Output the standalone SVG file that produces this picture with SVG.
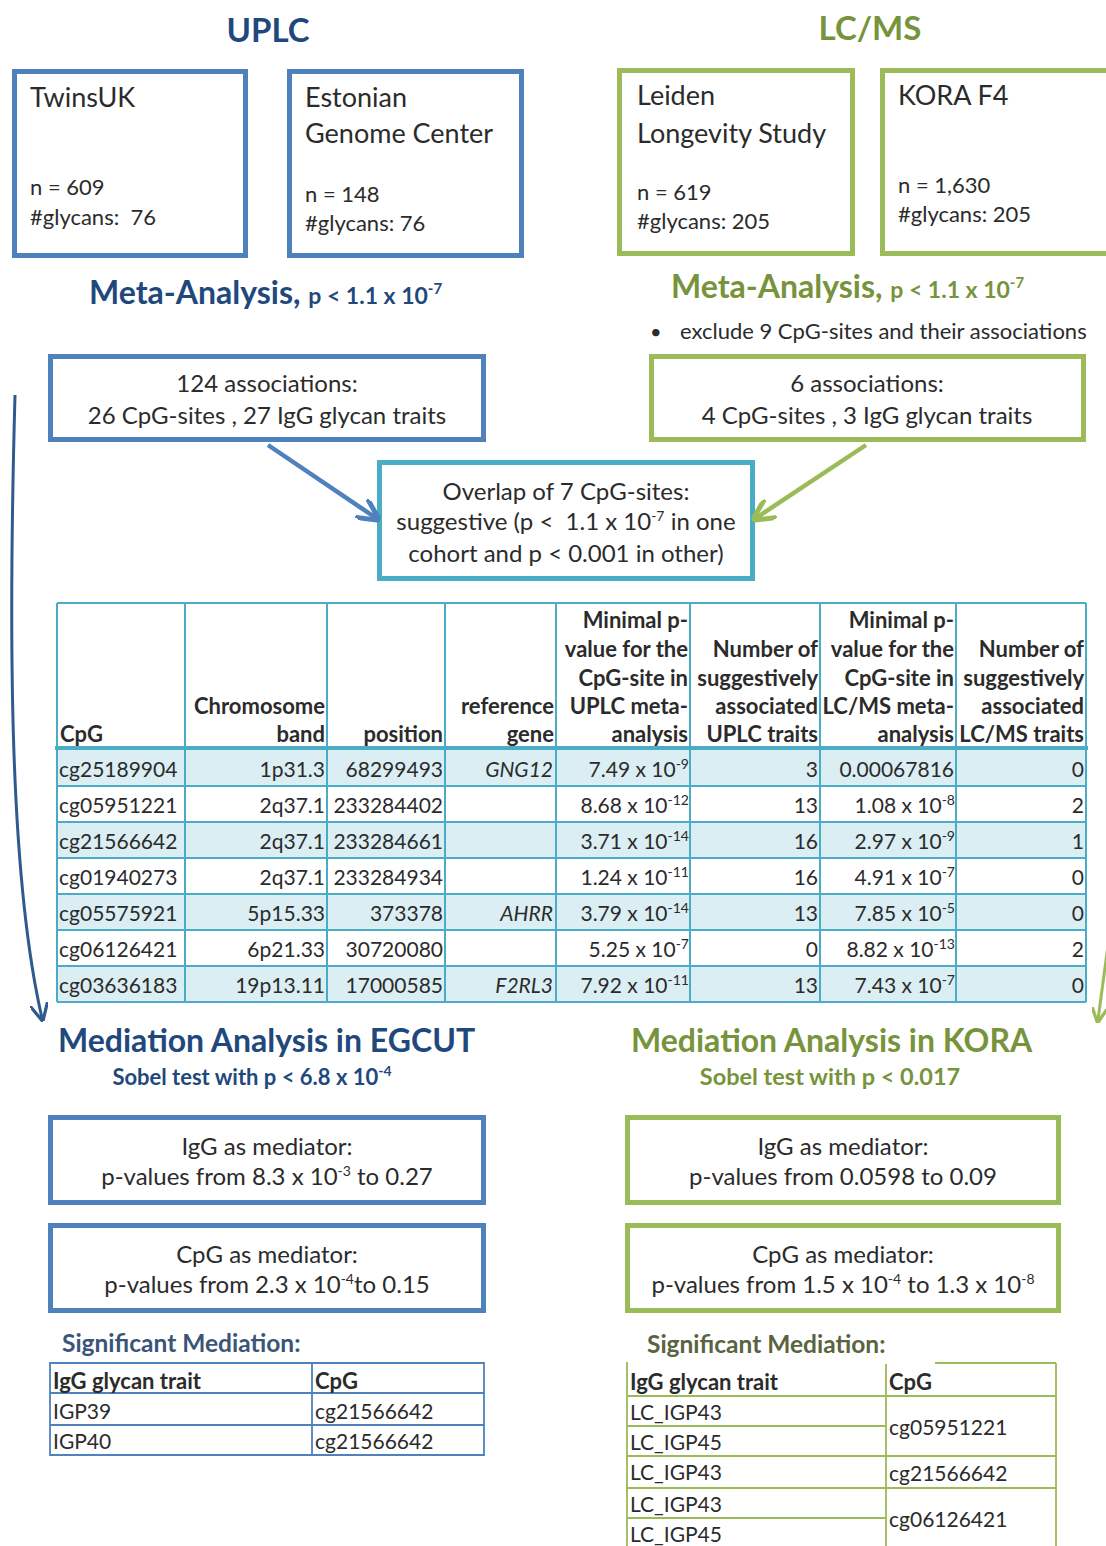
<svg xmlns="http://www.w3.org/2000/svg" width="1106" height="1546" viewBox="0 0 1106 1546">
<defs>
<style>
text{font-family:Lato,"Liberation Sans",sans-serif;fill:#2b2b2b}
.b{font-weight:bold}
.bx{fill:#fff;stroke-width:5}
.blue{stroke:#4F81BD}
.green{stroke:#9BBB59}
.cyan{stroke:#4BACC6}
.tb{fill:#1F497D}
.tg{fill:#77933C}
.c{text-anchor:middle}
.h{font-size:22px;font-weight:bold;text-anchor:end}
.r{font-size:21px;text-anchor:end}
.grid{stroke:#4BACC6;stroke-width:2;fill:none}
.sup{font-size:14px}
.bt{font-size:24px;text-anchor:middle}
</style>
<marker id="ab" viewBox="0 0 10 10" refX="8" refY="5" markerWidth="5" markerHeight="5" orient="auto"><path d="M0,0 L10,5 L0,10" fill="none" stroke="#4F81BD" stroke-width="2.2"/></marker>
<marker id="ag" viewBox="0 0 10 10" refX="8" refY="5" markerWidth="5" markerHeight="5" orient="auto"><path d="M0,0 L10,5 L0,10" fill="none" stroke="#9BBB59" stroke-width="2.2"/></marker>
<marker id="ad" viewBox="0 0 10 10" refX="8" refY="5" markerWidth="6" markerHeight="6" orient="auto"><path d="M0,0 L10,5 L0,10" fill="none" stroke="#2F5A8F" stroke-width="1.8"/></marker>
</defs>

<g id="titles">
<text x="268" y="42" class="b tb c" font-size="33">UPLC</text>
<text x="870" y="40" class="b tg c" font-size="33">LC/MS</text>
</g>

<g id="twinsuk">
<rect x="14.5" y="71.5" width="231" height="184" class="bx blue"/>
<text x="30" y="107" font-size="27">TwinsUK</text>
<text x="30" y="195" font-size="22">n = 609</text>
<text x="30" y="225" font-size="22">#glycans:&#160; 76</text>
</g>
<g id="estonian">
<rect x="289.5" y="71.5" width="232" height="184" class="bx blue"/>
<text x="305" y="107" font-size="27">Estonian</text>
<text x="305" y="143" font-size="27">Genome Center</text>
<text x="305" y="202" font-size="22">n = 148</text>
<text x="305" y="231" font-size="22">#glycans: 76</text>
</g>
<g id="leiden">
<rect x="619.5" y="70.5" width="233" height="183" class="bx green"/>
<text x="637" y="105" font-size="27">Leiden</text>
<text x="637" y="143" font-size="27">Longevity Study</text>
<text x="637" y="200" font-size="22">n = 619</text>
<text x="637" y="229" font-size="22">#glycans: 205</text>
</g>
<g id="kora">
<rect x="882.5" y="70.5" width="240" height="183" class="bx green"/>
<text x="898" y="105" font-size="27">KORA F4</text>
<text x="898" y="193" font-size="22">n = 1,630</text>
<text x="898" y="222" font-size="22">#glycans: 205</text>
</g>

<g id="meta-left">
<text x="89" y="304" class="b tb" font-size="32">Meta-Analysis, <tspan font-size="23">p &lt; 1.1 x 10</tspan><tspan font-size="15" dy="-10">-7</tspan></text>
</g>
<g id="meta-right">
<text x="671" y="298" class="b tg" font-size="32">Meta-Analysis, <tspan font-size="23">p &lt; 1.1 x 10</tspan><tspan font-size="15" dy="-10">-7</tspan></text>
<text x="650" y="339" font-size="20">•</text>
<text x="680" y="339" font-size="22">exclude 9 CpG-sites and their associations</text>
</g>

<g id="assoc-left">
<rect x="50.5" y="356.5" width="433" height="83" class="bx blue"/>
<text x="267" y="392" class="bt">124 associations:</text>
<text x="267" y="424" class="bt">26 CpG-sites , 27 IgG glycan traits</text>
</g>
<g id="assoc-right">
<rect x="651.5" y="356.5" width="432" height="83" class="bx green"/>
<text x="867" y="392" class="bt">6 associations:</text>
<text x="867" y="424" class="bt">4 CpG-sites , 3 IgG glycan traits</text>
</g>
<g id="overlap">
<rect x="379.5" y="462.5" width="373" height="116" class="bx cyan"/>
<text x="566" y="500" class="bt">Overlap of 7 CpG-sites:</text>
<text x="566" y="530" class="bt">suggestive (p &lt;&#160; 1.1 x 10<tspan class="sup" dy="-9">-7</tspan><tspan dy="9"> in one</tspan></text>
<text x="566" y="562" class="bt">cohort and p &lt; 0.001 in other)</text>
</g>

<g id="connectors" fill="none">
<path d="M268,445 L376,518" stroke="#4F81BD" stroke-width="4.5" marker-end="url(#ab)"/>
<path d="M866,445 L756,518" stroke="#9BBB59" stroke-width="4.5" marker-end="url(#ag)"/>
<path d="M15,395 C8,650 10,880 42,1018" stroke="#2F5A8F" stroke-width="3" marker-end="url(#ad)"/>
<path d="M1108,945 L1098,1020" stroke="#9BBB59" stroke-width="3" marker-end="url(#ag)"/>
</g>

<g id="main-table">
<rect x="57" y="750" width="1029" height="36" fill="#DAEEF3"/>
<rect x="57" y="822" width="1029" height="36" fill="#DAEEF3"/>
<rect x="57" y="894" width="1029" height="36" fill="#DAEEF3"/>
<rect x="57" y="966" width="1029" height="36" fill="#DAEEF3"/>
<path class="grid" d="M57,603 H1086 M57,786 H1086 M57,822 H1086 M57,858 H1086 M57,894 H1086 M57,930 H1086 M57,966 H1086 M57,1002 H1086 M57,603 V1002 M185,603 V1002 M327,603 V1002 M445,603 V1002 M556,603 V1002 M690,603 V1002 M820,603 V1002 M956,603 V1002 M1086,603 V1002"/>
<path d="M55,748 H1088" stroke="#4BACC6" stroke-width="4"/>
<text x="60" y="742" font-size="22" font-weight="bold">CpG</text>
<text x="325" y="714" class="h">Chromosome</text>
<text x="325" y="742" class="h">band</text>
<text x="443" y="742" class="h">position</text>
<text x="554" y="714" class="h">reference</text>
<text x="554" y="742" class="h">gene</text>
<text x="688" y="628" class="h">Minimal p-</text>
<text x="688" y="657" class="h">value for the</text>
<text x="688" y="686" class="h">CpG-site in</text>
<text x="688" y="714" class="h">UPLC meta-</text>
<text x="688" y="742" class="h">analysis</text>
<text x="818" y="657" class="h">Number of</text>
<text x="818" y="686" class="h">suggestively</text>
<text x="818" y="714" class="h">associated</text>
<text x="818" y="742" class="h">UPLC traits</text>
<text x="954" y="628" class="h">Minimal p-</text>
<text x="954" y="657" class="h">value for the</text>
<text x="954" y="686" class="h">CpG-site in</text>
<text x="954" y="714" class="h">LC/MS meta-</text>
<text x="954" y="742" class="h">analysis</text>
<text x="1084" y="657" class="h">Number of</text>
<text x="1084" y="686" class="h">suggestively</text>
<text x="1084" y="714" class="h">associated</text>
<text x="1084" y="742" class="h">LC/MS traits</text>

<g font-size="21">
<text x="59" y="777">cg25189904</text>
<text x="59" y="813">cg05951221</text>
<text x="59" y="849">cg21566642</text>
<text x="59" y="885">cg01940273</text>
<text x="59" y="921">cg05575921</text>
<text x="59" y="957">cg06126421</text>
<text x="59" y="993">cg03636183</text>
</g>
<text x="325" y="777" class="r">1p31.3</text>
<text x="325" y="813" class="r">2q37.1</text>
<text x="325" y="849" class="r">2q37.1</text>
<text x="325" y="885" class="r">2q37.1</text>
<text x="325" y="921" class="r">5p15.33</text>
<text x="325" y="957" class="r">6p21.33</text>
<text x="325" y="993" class="r">19p13.11</text>
<text x="443" y="777" class="r">68299493</text>
<text x="443" y="813" class="r">233284402</text>
<text x="443" y="849" class="r">233284661</text>
<text x="443" y="885" class="r">233284934</text>
<text x="443" y="921" class="r">373378</text>
<text x="443" y="957" class="r">30720080</text>
<text x="443" y="993" class="r">17000585</text>
<text x="553" y="777" class="r" font-style="italic">GNG12</text>
<text x="553" y="921" class="r" font-style="italic">AHRR</text>
<text x="553" y="993" class="r" font-style="italic">F2RL3</text>
<text x="689" y="777" class="r">7.49 x 10<tspan class="sup" dy="-8">-9</tspan></text>
<text x="689" y="813" class="r">8.68 x 10<tspan class="sup" dy="-8">-12</tspan></text>
<text x="689" y="849" class="r">3.71 x 10<tspan class="sup" dy="-8">-14</tspan></text>
<text x="689" y="885" class="r">1.24 x 10<tspan class="sup" dy="-8">-11</tspan></text>
<text x="689" y="921" class="r">3.79 x 10<tspan class="sup" dy="-8">-14</tspan></text>
<text x="689" y="957" class="r">5.25 x 10<tspan class="sup" dy="-8">-7</tspan></text>
<text x="689" y="993" class="r">7.92 x 10<tspan class="sup" dy="-8">-11</tspan></text>
<text x="818" y="777" class="r">3</text>
<text x="818" y="813" class="r">13</text>
<text x="818" y="849" class="r">16</text>
<text x="818" y="885" class="r">16</text>
<text x="818" y="921" class="r">13</text>
<text x="818" y="957" class="r">0</text>
<text x="818" y="993" class="r">13</text>
<text x="954" y="777" class="r">0.00067816</text>
<text x="955" y="813" class="r">1.08 x 10<tspan class="sup" dy="-8">-8</tspan></text>
<text x="955" y="849" class="r">2.97 x 10<tspan class="sup" dy="-8">-9</tspan></text>
<text x="955" y="885" class="r">4.91 x 10<tspan class="sup" dy="-8">-7</tspan></text>
<text x="955" y="921" class="r">7.85 x 10<tspan class="sup" dy="-8">-5</tspan></text>
<text x="955" y="957" class="r">8.82 x 10<tspan class="sup" dy="-8">-13</tspan></text>
<text x="955" y="993" class="r">7.43 x 10<tspan class="sup" dy="-8">-7</tspan></text>
<text x="1084" y="777" class="r">0</text>
<text x="1084" y="813" class="r">2</text>
<text x="1084" y="849" class="r">1</text>
<text x="1084" y="885" class="r">0</text>
<text x="1084" y="921" class="r">0</text>
<text x="1084" y="957" class="r">2</text>
<text x="1084" y="993" class="r">0</text>
</g>

<g id="mediation-egcut">
<text x="58" y="1052" class="b tb" font-size="32">Mediation Analysis in EGCUT</text>
<text x="252" y="1085" class="b tb c" font-size="22">Sobel test with p &lt; 6.8 x 10<tspan class="sup" dy="-9">-4</tspan></text>
</g>
<g id="egcut-igg">
<rect x="50.5" y="1117.5" width="433" height="85" class="bx blue"/>
<text x="267" y="1155" class="bt">IgG as mediator:</text>
<text x="267" y="1185" class="bt">p-values from 8.3 x 10<tspan class="sup" dy="-9">-3</tspan><tspan dy="9"> to 0.27</tspan></text>
</g>
<g id="egcut-cpg">
<rect x="50.5" y="1225.5" width="433" height="85" class="bx blue"/>
<text x="267" y="1263" class="bt">CpG as mediator:</text>
<text x="267" y="1293" class="bt">p-values from 2.3 x 10<tspan class="sup" dy="-9">-4</tspan><tspan dy="9">to 0.15</tspan></text>
</g>

<g id="mediation-kora">
<text x="631" y="1052" class="b tg" font-size="32">Mediation Analysis in KORA</text>
<text x="830" y="1085" class="b tg c" font-size="23.5">Sobel test with p &lt; 0.017</text>
</g>
<g id="kora-igg">
<rect x="627.5" y="1117.5" width="431" height="85" class="bx green"/>
<text x="843" y="1155" class="bt">IgG as mediator:</text>
<text x="843" y="1185" class="bt">p-values from 0.0598 to 0.09</text>
</g>
<g id="kora-cpg">
<rect x="627.5" y="1225.5" width="431" height="85" class="bx green"/>
<text x="843" y="1263" class="bt">CpG as mediator:</text>
<text x="843" y="1293" class="bt">p-values from 1.5 x 10<tspan class="sup" dy="-9">-4</tspan><tspan dy="9"> to 1.3 x 10</tspan><tspan class="sup" dy="-9">-8</tspan></text>
</g>

<g id="sig-egcut">
<text x="62" y="1352" class="b" font-size="24.5" style="fill:#3A5578">Significant Mediation:</text>
<path d="M50,1363 H484 V1455 H50 Z M50,1393 H484 M50,1425 H484 M312,1363 V1455" fill="none" stroke="#4F81BD" stroke-width="1.8"/>
<text x="53" y="1389" font-size="22" font-weight="bold">IgG glycan trait</text>
<text x="315" y="1389" font-size="22" font-weight="bold">CpG</text>
<text x="53" y="1419" font-size="21">IGP39</text>
<text x="315" y="1419" font-size="21">cg21566642</text>
<text x="53" y="1449" font-size="21">IGP40</text>
<text x="315" y="1449" font-size="21">cg21566642</text>
</g>

<g id="sig-kora">
<text x="647" y="1353" class="b" font-size="24.5" style="fill:#5A6440">Significant Mediation:</text>
<path d="M627,1362 V1546 M886,1364 V1546 M1056,1363 V1546 M935,1363 H1056 M627,1396 H1056 M627,1426 H886 M627,1456 H1056 M627,1488 H1056 M627,1518 H886" fill="none" stroke="#9BBB59" stroke-width="1.8"/>
<text x="630" y="1390" font-size="22" font-weight="bold">IgG glycan trait</text>
<text x="889" y="1390" font-size="22" font-weight="bold">CpG</text>
<text x="630" y="1420" font-size="21">LC_IGP43</text>
<text x="630" y="1450" font-size="21">LC_IGP45</text>
<text x="630" y="1480" font-size="21">LC_IGP43</text>
<text x="630" y="1512" font-size="21">LC_IGP43</text>
<text x="630" y="1542" font-size="21">LC_IGP45</text>
<text x="889" y="1435" font-size="21">cg05951221</text>
<text x="889" y="1481" font-size="21">cg21566642</text>
<text x="889" y="1527" font-size="21">cg06126421</text>
</g>
</svg>
